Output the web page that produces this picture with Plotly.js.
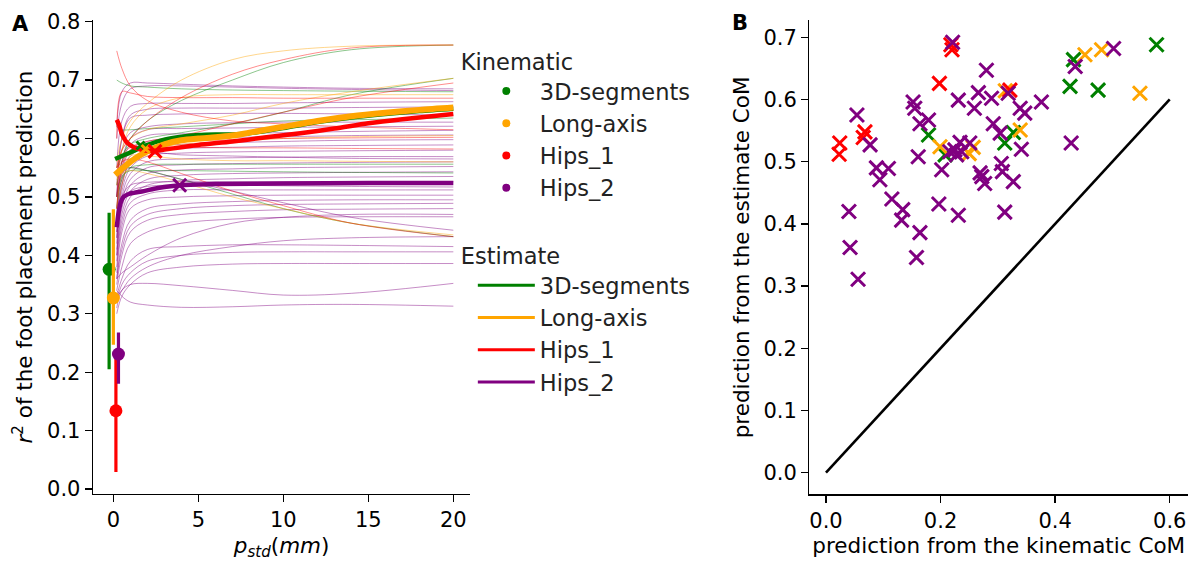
<!DOCTYPE html>
<html>
<head>
<meta charset="utf-8">
<script src="https://cdn.plot.ly/plotly-3.0.1.min.js"></script>
<style>html,body{margin:0;padding:0;background:#fff;}#chart{width:1198px;height:563px;}</style>
</head>
<body>
<div id="chart"></div>
<script>
// ---------- Panel A data ----------
const groups = ["3D-segments", "Long-axis", "Hips_1", "Hips_2"];
const colors = ["#008000", "#FFA500", "#FF0000", "#800080"];

// thin per-subject curves, sampled at these p_std values (mm)
const pstd = [0.2, 0.5, 1, 2, 4, 7, 10, 14, 20];

const thinGreen = [
  [0.52, 0.56, 0.60, 0.63, 0.665, 0.70, 0.73, 0.752, 0.760],
  [0.70, 0.695, 0.69, 0.688, 0.685, 0.683, 0.682, 0.681, 0.680],
  [0.55, 0.57, 0.59, 0.60, 0.61, 0.625, 0.645, 0.675, 0.703],
  [0.62, 0.615, 0.615, 0.617, 0.62, 0.625, 0.63, 0.632, 0.635],
  [0.54, 0.55, 0.55, 0.545, 0.53, 0.505, 0.48, 0.455, 0.432],
  [0.48, 0.53, 0.55, 0.555, 0.556, 0.556, 0.556, 0.556, 0.556],
  [0.50, 0.535, 0.545, 0.545, 0.545, 0.544, 0.543, 0.542, 0.541]
];
const thinOrange = [
  [0.56, 0.60, 0.63, 0.66, 0.70, 0.735, 0.75, 0.758, 0.760],
  [0.55, 0.58, 0.60, 0.615, 0.625, 0.64, 0.66, 0.68, 0.703],
  [0.52, 0.58, 0.62, 0.65, 0.67, 0.675, 0.675, 0.675, 0.675],
  [0.53, 0.54, 0.545, 0.54, 0.525, 0.50, 0.48, 0.455, 0.435],
  [0.45, 0.52, 0.56, 0.58, 0.59, 0.595, 0.60, 0.603, 0.605],
  [0.48, 0.54, 0.57, 0.57, 0.565, 0.562, 0.562, 0.561, 0.560]
];
const thinRed = [
  [0.75, 0.72, 0.69, 0.665, 0.645, 0.63, 0.625, 0.62, 0.615],
  [0.60, 0.68, 0.678, 0.672, 0.670, 0.670, 0.669, 0.669, 0.669],
  [0.55, 0.58, 0.60, 0.63, 0.67, 0.71, 0.735, 0.755, 0.760],
  [0.54, 0.57, 0.585, 0.595, 0.605, 0.625, 0.645, 0.67, 0.695],
  [0.55, 0.56, 0.565, 0.56, 0.54, 0.51, 0.485, 0.455, 0.432],
  [0.48, 0.55, 0.58, 0.59, 0.595, 0.598, 0.600, 0.601, 0.602],
  [0.50, 0.56, 0.58, 0.585, 0.585, 0.584, 0.584, 0.583, 0.582]
];
const thinPurple = [
  [0.62, 0.68, 0.695, 0.695, 0.693, 0.69, 0.688, 0.686, 0.685],
  [0.60, 0.66, 0.685, 0.69, 0.69, 0.688, 0.686, 0.684, 0.682],
  [0.55, 0.63, 0.655, 0.66, 0.66, 0.66, 0.661, 0.662, 0.663],
  [0.50, 0.60, 0.64, 0.65, 0.652, 0.652, 0.652, 0.653, 0.654],
  [0.52, 0.60, 0.635, 0.64, 0.642, 0.643, 0.643, 0.642, 0.640],
  [0.50, 0.58, 0.61, 0.62, 0.625, 0.627, 0.628, 0.628, 0.628],
  [0.48, 0.56, 0.60, 0.615, 0.617, 0.618, 0.619, 0.620, 0.621],
  [0.47, 0.55, 0.59, 0.605, 0.608, 0.609, 0.610, 0.612, 0.614],
  [0.46, 0.54, 0.58, 0.595, 0.60, 0.602, 0.603, 0.605, 0.606],
  [0.45, 0.53, 0.57, 0.585, 0.59, 0.593, 0.595, 0.597, 0.598],
  [0.44, 0.52, 0.56, 0.578, 0.583, 0.585, 0.587, 0.588, 0.589],
  [0.43, 0.51, 0.55, 0.57, 0.575, 0.577, 0.578, 0.579, 0.580],
  [0.45, 0.52, 0.56, 0.575, 0.572, 0.57, 0.568, 0.566, 0.565],
  [0.42, 0.50, 0.54, 0.56, 0.565, 0.567, 0.568, 0.569, 0.569],
  [0.41, 0.49, 0.53, 0.55, 0.555, 0.557, 0.558, 0.559, 0.560],
  [0.40, 0.48, 0.52, 0.54, 0.546, 0.548, 0.550, 0.551, 0.552],
  [0.40, 0.47, 0.51, 0.53, 0.537, 0.540, 0.541, 0.542, 0.543],
  [0.39, 0.46, 0.50, 0.52, 0.528, 0.531, 0.533, 0.534, 0.535],
  [0.44, 0.50, 0.52, 0.525, 0.526, 0.526, 0.526, 0.526, 0.526],
  [0.43, 0.49, 0.51, 0.518, 0.52, 0.52, 0.519, 0.518, 0.517],
  [0.38, 0.45, 0.49, 0.505, 0.512, 0.512, 0.512, 0.512, 0.512],
  [0.37, 0.44, 0.48, 0.495, 0.500, 0.502, 0.503, 0.503, 0.503],
  [0.36, 0.42, 0.46, 0.48, 0.488, 0.492, 0.494, 0.495, 0.495],
  [0.36, 0.41, 0.45, 0.47, 0.480, 0.485, 0.487, 0.488, 0.489],
  [0.35, 0.40, 0.44, 0.46, 0.470, 0.475, 0.478, 0.479, 0.480],
  [0.36, 0.37, 0.38, 0.40, 0.43, 0.455, 0.465, 0.47, 0.47],
  [0.34, 0.38, 0.42, 0.44, 0.455, 0.462, 0.465, 0.466, 0.466],
  [0.50, 0.54, 0.55, 0.545, 0.53, 0.51, 0.49, 0.465, 0.443],
  [0.33, 0.34, 0.36, 0.38, 0.40, 0.415, 0.425, 0.43, 0.432],
  [0.33, 0.36, 0.39, 0.41, 0.415, 0.418, 0.418, 0.417, 0.415],
  [0.32, 0.35, 0.37, 0.39, 0.40, 0.405, 0.406, 0.406, 0.406],
  [0.30, 0.33, 0.35, 0.37, 0.38, 0.385, 0.386, 0.386, 0.386],
  [0.31, 0.34, 0.35, 0.352, 0.348, 0.34, 0.332, 0.335, 0.352],
  [0.34, 0.33, 0.32, 0.315, 0.311, 0.312, 0.315, 0.316, 0.313]
];

// thick mean curves
const meanGreenX = [0.1, 0.5, 1, 1.5, 2, 3, 4, 5, 6, 7, 8, 10, 12, 14, 16, 18, 20];
const meanGreenY = [0.565, 0.570, 0.576, 0.583, 0.589, 0.598, 0.603, 0.606, 0.607, 0.607, 0.609, 0.618, 0.628, 0.636, 0.642, 0.647, 0.651];
const meanOrangeX = [0.1, 0.5, 1, 1.5, 2, 3, 4, 5, 6, 7, 8, 10, 12, 14, 16, 18, 20];
const meanOrangeY = [0.538, 0.548, 0.560, 0.570, 0.578, 0.590, 0.597, 0.600, 0.602, 0.605, 0.610, 0.620, 0.630, 0.638, 0.644, 0.649, 0.653];
const meanRedX = [0.2, 0.35, 0.5, 0.8, 1.2, 1.6, 2, 2.5, 3, 4, 5, 7, 9, 11, 13, 15, 17, 20];
const meanRedY = [0.632, 0.622, 0.608, 0.593, 0.585, 0.581, 0.579, 0.579, 0.581, 0.585, 0.589, 0.595, 0.602, 0.609, 0.617, 0.626, 0.633, 0.642];
const meanPurpleX = [0.2, 0.3, 0.45, 0.6, 0.9, 1.2, 1.8, 2.4, 3, 4, 6, 10, 15, 20];
const meanPurpleY = [0.448, 0.472, 0.492, 0.500, 0.505, 0.507, 0.510, 0.514, 0.517, 0.520, 0.522, 0.523, 0.524, 0.524];

// optimum markers on the mean curves
const optX = [1.6, 1.9, 2.45, 3.9];
const optY = [0.588, 0.582, 0.578, 0.520];

// kinematic CoM result (mean with spread)
const kinX = [-0.25, 0.0, 0.15, 0.3];
const kinY = [0.376, 0.327, 0.134, 0.231];
const kinPlus = [0.097, 0.152, 0.105, 0.037];
const kinMinus = [0.171, 0.080, 0.105, 0.051];

// ---------- Panel B data ----------
const bGreenX = [0.179, 0.208, 0.312, 0.327, 0.432, 0.426, 0.475, 0.577];
const bGreenY = [0.543, 0.511, 0.530, 0.547, 0.664, 0.621, 0.615, 0.688];
const bOrangeX = [0.199, 0.250, 0.257, 0.339, 0.313, 0.452, 0.481, 0.548];
const bOrangeY = [0.524, 0.513, 0.523, 0.551, 0.614, 0.672, 0.680, 0.610];
const bRedX = [0.024, 0.023, 0.068, 0.065, 0.198, 0.218, 0.220, 0.321];
const bRedY = [0.530, 0.512, 0.548, 0.539, 0.626, 0.688, 0.680, 0.615];
const bPurpleX = [0.054, 0.077, 0.040, 0.042, 0.056, 0.088, 0.109, 0.094, 0.115, 0.134, 0.132, 0.164, 0.158,
  0.152, 0.155, 0.164, 0.179, 0.161, 0.202, 0.197, 0.231, 0.231, 0.280, 0.266, 0.289, 0.259, 0.292, 0.304,
  0.225, 0.234, 0.251, 0.237, 0.228, 0.269, 0.272, 0.277, 0.306, 0.308, 0.327, 0.312, 0.339, 0.347, 0.376,
  0.341, 0.428, 0.435, 0.502, 0.221, 0.318, 0.216];
const bPurpleY = [0.575, 0.527, 0.420, 0.362, 0.311, 0.490, 0.489, 0.471, 0.440, 0.423, 0.406, 0.386, 0.346,
  0.596, 0.586, 0.561, 0.567, 0.508, 0.487, 0.432, 0.414, 0.599, 0.647, 0.611, 0.602, 0.586, 0.561, 0.546,
  0.519, 0.531, 0.530, 0.516, 0.511, 0.482, 0.476, 0.465, 0.497, 0.484, 0.468, 0.419, 0.586, 0.578, 0.596,
  0.520, 0.530, 0.653, 0.682, 0.692, 0.610, 0.516];
const identityX = [0, 0.6];
const identityY = [0, 0.6];

// ---------- traces ----------
const traces = [];
function addThin(set, color) {
  set.forEach(ys => traces.push({
    x: pstd, y: ys, type: 'scatter', mode: 'lines', xaxis: 'x', yaxis: 'y',
    line: {color: color, width: 0.9, shape: 'spline', smoothing: 1},
    opacity: 0.5, showlegend: false, hoverinfo: 'skip'
  }));
}
addThin(thinPurple, colors[3]);
addThin(thinGreen, colors[0]);
addThin(thinOrange, colors[1]);
addThin(thinRed, colors[2]);

// kinematic error bars
for (let i = 0; i < 4; i++) {
  traces.push({
    x: [kinX[i]], y: [kinY[i]], type: 'scatter', mode: 'markers', xaxis: 'x', yaxis: 'y',
    marker: {color: colors[i], size: 13},
    error_y: {type: 'data', symmetric: false, array: [kinPlus[i]], arrayminus: [kinMinus[i]],
      color: colors[i], thickness: 3.2, width: 0},
    showlegend: false
  });
}

const means = [[meanGreenX, meanGreenY, 4.5], [meanOrangeX, meanOrangeY, 6], [meanRedX, meanRedY, 4.5], [meanPurpleX, meanPurpleY, 4.5]];
means.forEach((m, i) => traces.push({
  x: m[0], y: m[1], type: 'scatter', mode: 'lines', xaxis: 'x', yaxis: 'y',
  line: {color: colors[i], width: m[2], shape: 'spline', smoothing: 0.8}, showlegend: false
}));
for (let i = 0; i < 4; i++) {
  traces.push({
    x: [optX[i]], y: [optY[i]], type: 'scatter', mode: 'markers', xaxis: 'x', yaxis: 'y',
    marker: {symbol: 'x-thin-open', size: i >= 2 ? 13 : 8, color: colors[i], line: {color: colors[i], width: 3}},
    showlegend: false
  });
}

// legend entries
groups.forEach((g, i) => traces.push({
  x: [null], y: [null], type: 'scatter', mode: 'markers', name: g, legend: 'legend',
  marker: {color: colors[i], size: 8}, xaxis: 'x', yaxis: 'y'
}));
groups.forEach((g, i) => traces.push({
  x: [null], y: [null], type: 'scatter', mode: 'lines', name: g, legend: 'legend2',
  line: {color: colors[i], width: 3}, xaxis: 'x', yaxis: 'y'
}));

// panel B
traces.push({x: identityX, y: identityY, type: 'scatter', mode: 'lines', xaxis: 'x2', yaxis: 'y2',
  line: {color: '#000', width: 2.6}, showlegend: false});
const bSets = [[bGreenX, bGreenY], [bOrangeX, bOrangeY], [bRedX, bRedY], [bPurpleX, bPurpleY]];
bSets.forEach((s, i) => traces.push({
  x: s[0], y: s[1], type: 'scatter', mode: 'markers', xaxis: 'x2', yaxis: 'y2',
  marker: {symbol: 'x-thin-open', size: 14, color: colors[i], line: {color: colors[i], width: 3}},
  showlegend: false
}));

const font = 'DejaVu Sans, Verdana, sans-serif';
const axisCommon = {
  showline: true, linecolor: '#000', linewidth: 1.3, mirror: false,
  ticks: 'outside', ticklen: 7, tickwidth: 1.3, tickcolor: '#000',
  showgrid: false, zeroline: false, automargin: false,
  tickfont: {family: font, size: 21, color: '#000'}
};

const legFont = {family: font, size: 22.5, color: '#222'};
const layout = {
  width: 1198, height: 563,
  margin: {l: 0, r: 0, t: 0, b: 0},
  paper_bgcolor: '#fff', plot_bgcolor: 'rgba(0,0,0,0)',
  font: {family: font, color: '#000'},
  xaxis: Object.assign({}, axisCommon, {
    domain: [0.0776, 0.3926], range: [-1.2, 21], tickvals: [0, 5, 10, 15, 20], anchor: 'y',
    title: {text: '<i>p</i><sub><i>std</i></sub>(<i>mm</i>)', font: {family: font, size: 21.5}, standoff: 6}
  }),
  yaxis: Object.assign({}, axisCommon, {
    domain: [0.1231, 0.9636], range: [-0.008, 0.802], dtick: 0.1, tickformat: '.1f', anchor: 'x',
    title: {text: '<i>r</i><sup>2</sup> of the foot placement prediction', font: {family: font, size: 21.5}, standoff: 8}
  }),
  xaxis2: Object.assign({}, axisCommon, {
    domain: [0.6756, 0.9917], range: [-0.029, 0.632], dtick: 0.2, tickformat: '.1f', anchor: 'y2',
    title: {text: 'prediction from the kinematic CoM', font: {family: font, size: 21.5}, standoff: 6}
  }),
  yaxis2: Object.assign({}, axisCommon, {
    domain: [0.122, 0.9636], range: [-0.0347, 0.727], dtick: 0.1, tickformat: '.1f', anchor: 'x2',
    title: {text: 'prediction from the estimate CoM', font: {family: font, size: 21.5}, standoff: 8}
  }),
  legend: {
    x: 0.383, y: 0.928, xanchor: 'left', yanchor: 'top', bgcolor: 'rgba(0,0,0,0)',
    font: legFont, title: {text: 'Kinematic', font: legFont},
    indentation: 14, itemwidth: 57, tracegroupgap: 0
  },
  legend2: {
    x: 0.383, y: 0.583, xanchor: 'left', yanchor: 'top', bgcolor: 'rgba(0,0,0,0)',
    font: legFont, title: {text: 'Estimate', font: legFont},
    indentation: 14, itemwidth: 57, tracegroupgap: 0
  },
  annotations: [
    {text: '<b>A</b>', x: 20 / 1198, y: 1 - 23.5 / 563, xref: 'paper', yref: 'paper', showarrow: false,
     xanchor: 'center', yanchor: 'middle', font: {family: font, size: 21, color: '#000'}},
    {text: '<b>B</b>', x: 740 / 1198, y: 1 - 23 / 563, xref: 'paper', yref: 'paper', showarrow: false,
     xanchor: 'center', yanchor: 'middle', font: {family: font, size: 21, color: '#000'}}
  ],
  showlegend: true
};

Plotly.newPlot('chart', traces, layout, {staticPlot: true, displayModeBar: false});
</script>
</body>
</html>
